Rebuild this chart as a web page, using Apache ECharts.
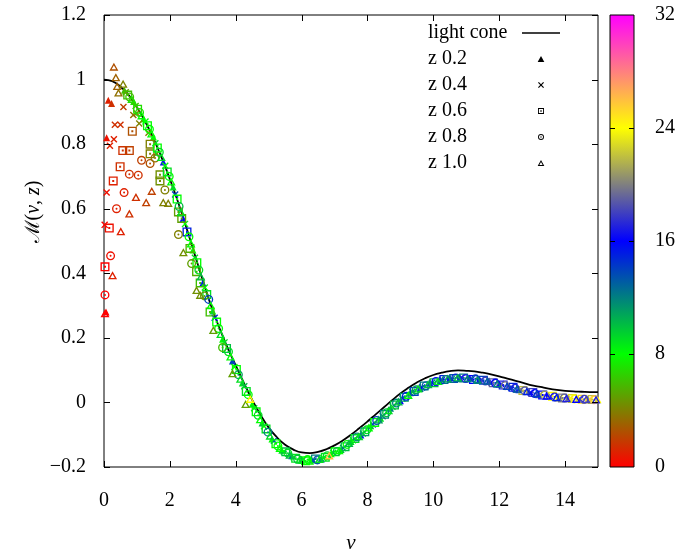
<!DOCTYPE html>
<html><head><meta charset="utf-8">
<script src="https://cdn.jsdelivr.net/npm/echarts@6/dist/echarts.min.js"></script>
<style>html,body{margin:0;padding:0;background:#fff}#c{width:695px;height:556px}</style>
</head><body><div id="c"></div>
<script>
// ---------- data ----------
const X_TICKS = [0, 2, 4, 6, 8, 10, 12, 14];
const Y_TICKS = [-0.2, 0, 0.2, 0.4, 0.6, 0.8, 1.0, 1.2];
const CB_TICKS = [0, 8, 16, 24, 32];
const PALETTE = ['#ff0000', '#00ff00', '#0000ff', '#ffff00', '#ff00ff'];

const LC_NU = [0,0.25,0.5,0.75,1,1.25,1.5,1.75,2,2.25,2.5,2.75,3,3.25,3.5,3.75,4,4.25,4.5,4.75,5,5.25,5.5,5.75,6,6.25,6.5,6.75,7,7.25,7.5,7.75,8,8.25,8.5,8.75,9,9.25,9.5,9.75,10,10.25,10.5,10.75,11,11.25,11.5,11.75,12,12.25,12.5,12.75,13,13.25,13.5,13.75,14,14.25,14.5,14.75,15];
const LC_M = [1.000,0.995,0.978,0.952,0.914,0.870,0.818,0.758,0.692,0.620,0.542,0.460,0.378,0.300,0.232,0.170,0.115,0.060,0.008,-0.038,-0.078,-0.108,-0.131,-0.146,-0.155,-0.157,-0.153,-0.145,-0.133,-0.118,-0.100,-0.080,-0.059,-0.037,-0.015,0.007,0.028,0.046,0.062,0.075,0.085,0.092,0.097,0.099,0.098,0.096,0.092,0.087,0.081,0.074,0.067,0.060,0.053,0.048,0.043,0.039,0.036,0.034,0.033,0.032,0.032];

const Z02_NU = [0.06,0.08,0.13,0.23, 0.62,0.9,1.2,1.5,1.8,2.1,2.4,2.7,3.0,3.3,3.6,3.9,4.2,4.5,4.8,5.1,5.4,5.7,6.0,6.3,6.6,6.9,7.2,7.5,7.8,8.1,8.4,8.7,9.0,9.3,9.6,9.9,10.2,10.5,10.8,11.1,11.4,11.7,12.0,12.3,12.6,12.9,13.2,13.5,13.8,14.1,14.4,14.7,15.0];
const Z02_M = [0.28,0.82,0.936,0.926, 0.967,0.932,0.878,0.822,0.745,0.667,0.570,0.472,0.370,0.283,0.196,0.128,0.060,-0.006,-0.064,-0.113,-0.148,-0.165,-0.180,-0.177,-0.175,-0.159,-0.146,-0.121,-0.101,-0.072,-0.049,-0.018,0.005,0.030,0.043,0.060,0.066,0.076,0.074,0.076,0.068,0.066,0.056,0.051,0.039,0.034,0.024,0.021,0.014,0.014,0.010,0.011,0.008];
const Z02_C = [0,0.5,1,1.5, 6,7,8,8,15,9,16,8,15,9,8,14,9,8,10,8,9,15,8,9,14,8,10,9,15,10,9,12,16,11,13,15,12,16,13,15,17,14,16,18,15,17,19,16,22,16,24,20,24];

const Z04_NU = [0.02,0.08,0.18,0.30,0.33,0.50,0.59,0.89,0.99,1.07,1.35,1.6, 0.66,0.96,1.26,1.56,1.86,2.16,2.46,2.76,3.06,3.36,3.66,3.96,4.26,4.56,4.86,5.16,5.46,5.76,6.06,6.36,6.66,6.96,7.26,7.56,7.86,8.16,8.46,8.76,9.06,9.36,9.66,9.96,10.26,10.56,10.86,11.16,11.46,11.76,12.06,12.36,12.66,12.96,13.26,13.56,13.86,14.16,14.46,14.76];
const Z04_M = [0.55,0.65,0.795,0.815,0.86,0.86,0.915,0.89,0.896,0.864,0.835,0.77, 0.961,0.918,0.870,0.803,0.733,0.644,0.553,0.448,0.356,0.262,0.186,0.110,0.050,-0.018,-0.074,-0.119,-0.152,-0.170,-0.176,-0.180,-0.172,-0.156,-0.141,-0.117,-0.096,-0.068,-0.043,-0.013,0.012,0.033,0.046,0.061,0.070,0.073,0.077,0.072,0.070,0.062,0.057,0.046,0.040,0.030,0.026,0.018,0.016,0.012,0.010,0.009];
const Z04_C = [0,0.5,1,1,1.5,1.5,2,3.5,3.5,4,4,4.5, 5,6,8,9,8,14,8,9,8,15,9,8,10,9,8,13,9,8,10,15,8,9,12,8,10,14,11,9,13,10,16,12,14,11,16,13,15,18,16,14,20,16,23,18,24,25,17,24];

const Z06_NU = [0.03,0.16,0.28,0.49,0.57,0.77,0.86,1.4,1.4,1.7,1.7,2.26,2.36,2.61,2.81,2.92,3.22, 0.72,1.02,1.32,1.62,1.92,2.22,2.52,2.82,3.12,3.42,3.72,4.02,4.32,4.62,4.92,5.22,5.52,5.82,6.12,6.42,6.72,7.02,7.32,7.62,7.92,8.22,8.52,8.82,9.12,9.42,9.72,10.02,10.32,10.62,10.92,11.22,11.52,11.82,12.12,12.42,12.72,13.02,13.32,13.62,13.92,14.22,14.52,14.82];
const Z06_M = [0.42,0.54,0.686,0.73,0.78,0.78,0.84,0.80,0.77,0.705,0.686,0.59,0.57,0.477,0.405,0.37,0.28, 0.952,0.908,0.857,0.788,0.714,0.630,0.528,0.433,0.334,0.249,0.167,0.102,0.034,-0.029,-0.082,-0.128,-0.153,-0.173,-0.181,-0.175,-0.170,-0.153,-0.137,-0.112,-0.091,-0.062,-0.037,-0.008,0.016,0.034,0.051,0.061,0.071,0.074,0.076,0.071,0.069,0.061,0.054,0.047,0.037,0.031,0.023,0.019,0.014,0.012,0.010,0.009];
const Z06_C = [0,0.5,1,1.5,1.5,2,2.5,4,4,4.5,4.5,5,5,5.5,5.5,6,6, 6,7,8,8,9,8,15,8,9,8,10,8,9,8,9,8,10,9,8,12,9,8,10,9,11,8,12,10,11,14,12,10,15,13,12,16,14,19,17,15,22,18,16,24,20,23,25,22];

const Z08_NU = [0.03,0.20,0.38,0.61,0.77,1.04,1.14,1.40,1.55,1.85,2.26,2.66,3.05,3.6, 0.78,1.08,1.38,1.68,1.98,2.28,2.58,2.88,3.18,3.48,3.78,4.08,4.38,4.68,4.98,5.28,5.58,5.88,6.18,6.48,6.78,7.08,7.38,7.68,7.98,8.28,8.58,8.88,9.18,9.48,9.78,10.08,10.38,10.68,10.98,11.28,11.58,11.88,12.18,12.48,12.78,13.08,13.38,13.68,13.98,14.28,14.58,14.88];
const Z08_M = [0.333,0.454,0.60,0.65,0.707,0.704,0.75,0.74,0.757,0.658,0.52,0.43,0.33,0.17, 0.946,0.898,0.846,0.775,0.700,0.607,0.513,0.410,0.319,0.229,0.157,0.086,0.024,-0.040,-0.092,-0.135,-0.157,-0.176,-0.177,-0.178,-0.165,-0.152,-0.130,-0.107,-0.085,-0.056,-0.032,-0.002,0.019,0.039,0.052,0.065,0.071,0.076,0.074,0.073,0.066,0.060,0.052,0.044,0.036,0.028,0.023,0.017,0.014,0.011,0.010,0.008];
const Z08_C = [0,0.5,1,1,1.5,1.5,2,2.5,3.5,4,4,5,5,6, 6,7,8,9,8,10,8,9,14,8,9,11,8,9,12,8,9,10,8,13,9,10,8,12,9,14,10,12,15,11,13,16,12,15,17,14,18,16,20,17,19,16,21,17,19,24,18,26];

const Z10_NU = [0.03,0.26,0.51,0.77,0.97,1.28,1.45,0.30,0.36,0.40,0.44,0.58,1.8,1.95,2.41,2.81,2.92,3.32,3.9,4.3, 0.84,1.14,1.44,1.74,2.04,2.34,2.64,2.94,3.24,3.54,3.84,4.14,4.44,4.74,5.04,5.34,5.64,5.94,6.24,6.54,6.84,7.14,7.44,7.74,8.04,8.34,8.64,8.94,9.24,9.54,9.84,10.14,10.44,10.74,11.04,11.34,11.64,11.94,12.24,12.54,12.84,13.14,13.44,13.74,14.04,14.34,14.64,14.94];
const Z10_M = [0.276,0.394,0.53,0.585,0.636,0.62,0.655,1.04,1.007,0.98,0.96,0.987,0.62,0.618,0.465,0.348,0.333,0.224,0.09,-0.005, 0.940,0.889,0.833,0.760,0.684,0.589,0.492,0.390,0.301,0.212,0.142,0.073,0.011,-0.052,-0.103,-0.141,-0.162,-0.177,-0.181,-0.175,-0.164,-0.148,-0.126,-0.105,-0.078,-0.053,-0.024,0.003,0.023,0.043,0.056,0.066,0.074,0.077,0.075,0.070,0.067,0.059,0.051,0.042,0.035,0.028,0.021,0.016,0.013,0.011,0.010,0.009];
const Z10_C = [0,1,1,1.5,1.5,2,2,2.5,3,3,3.5,4,4,4,4.5,4.5,4.5,5,5,5, 7,8,8,9,8,9,8,10,8,9,8,9,24,8,9,8,10,9,8,9,26,8,10,9,8,11,9,10,8,9,10,9,11,10,12,11,13,12,14,13,15,14,16,15,17,16,18,17];

// ---------- styling ----------
const FONT = '"Liberation Serif", "DejaVu Serif", serif';
const SYM_TRI = 'path://M5,0L10,9L0,9Z';
const SYM_CROSS = 'path://M0,1.4L1.4,0L10,8.6L8.6,10ZM8.6,0L10,1.4L1.4,10L0,8.6Z';
const SYM_SQ = 'path://M0,0L10,0L10,10L0,10ZM1.5,1.5L1.5,8.5L8.5,8.5L8.5,1.5ZM3.9,3.9L6.1,3.9L6.1,6.1L3.9,6.1Z';
const SYM_CIRC = 'path://M5,0A5,5,0,1,1,4.99,0ZM5,1.5A3.5,3.5,0,1,0,5.01,1.5ZM5,3.9A1.1,1.1,0,1,1,4.99,3.9Z';
const SYM_OTRI = 'path://M5,0L10,9L0,9ZM5,3.1L2.55,7.5L7.45,7.5Z';
const SYM_LINE = 'path://M0,0L38,0L38,1.5L0,1.5Z';

function zip3(a, b, c) { return a.map((v, i) => [v, b[i], c[i]]); }
function zip2(a, b) { return a.map((v, i) => [v, b[i]]); }

const NAMES = ['light cone', 'z 0.2', 'z 0.4', 'z 0.6', 'z 0.8', 'z 1.0'];
const ICONS = [SYM_LINE, SYM_TRI, SYM_CROSS, SYM_SQ, SYM_CIRC, SYM_OTRI];

function scatter(name, nu, m, c, symbol, size) {
  return {
    type: 'scatter', name, data: zip3(nu, m, c), symbol, symbolSize: size,
    xAxisIndex: 0, yAxisIndex: 0,
    itemStyle: { borderWidth: 0, opacity: 1 }, emphasis: { disabled: true }, silent: true
  };
}

function yFmt(v) { const r = Math.round(v * 10) / 10; return (r < 0 ? '\u2212' : '') + String(Math.abs(r)); }

const G = { left: 104, top: 15, width: 494, height: 452 };
const CB = { left: 610, top: 15, width: 24, height: 452 };
const X_MIN = 0, X_MAX = 15, Y_MIN = -0.2, Y_MAX = 1.2, C_MIN = 0, C_MAX = 32;
const labelStyle = { color: '#000', fontFamily: FONT, fontSize: 20 };
const edgeLine = { show: false, onZero: false };

const colorbarRect = {
  type: 'rect', silent: true, z: -1,
  shape: { x: CB.left, y: CB.top, width: CB.width, height: CB.height },
  style: { fill: { type: 'linear', x: 0, y: 1, x2: 0, y2: 0,
    colorStops: PALETTE.map((c, i) => ({ offset: i / (PALETTE.length - 1), color: c })) } }
};

// Inward, mirrored tick marks on the frame (axis decorations, drawn as thin rects)
function tickRect(x, y, w, h) {
  return { type: 'rect', silent: true, z: 100, zlevel: 0,
    shape: { x, y, width: w, height: h }, style: { fill: '#000', stroke: null } };
}
const TL = 6, CTL = 5;
const tickEls = [];
const gBottom = G.top + G.height, gRight = G.left + G.width;
X_TICKS.forEach(v => {
  const x = Math.round(G.left + (v - X_MIN) / (X_MAX - X_MIN) * G.width);
  tickEls.push(tickRect(x, gBottom - TL, 1, TL));
  tickEls.push(tickRect(x, G.top, 1, TL));
});
Y_TICKS.forEach(v => {
  const y = Math.round(G.top + (Y_MAX - v) / (Y_MAX - Y_MIN) * G.height);
  tickEls.push(tickRect(G.left, y, TL, 1));
  tickEls.push(tickRect(gRight - TL, y, TL, 1));
});
CB_TICKS.slice(1, -1).forEach(v => {
  const y = Math.round(CB.top + (C_MAX - v) / (C_MAX - C_MIN) * CB.height);
  tickEls.push(tickRect(CB.left, y, CTL, 1));
  tickEls.push(tickRect(CB.left + CB.width - CTL, y, CTL, 1));
});

const option = {
  animation: false,
  backgroundColor: '#fff',
  textStyle: { fontFamily: FONT },
  grid: [
    Object.assign({ show: true, borderColor: '#000', borderWidth: 1, backgroundColor: 'transparent', outerBoundsMode: 'none' }, G),
    Object.assign({ show: true, borderColor: '#000', borderWidth: 1, backgroundColor: 'transparent', outerBoundsMode: 'none', z: 5 }, CB)
  ],
  xAxis: [
    { type: 'value', gridIndex: 0, min: X_MIN, max: X_MAX, interval: 2, position: 'bottom',
      axisLine: edgeLine, axisTick: { show: false }, splitLine: { show: false },
      axisLabel: Object.assign({ margin: 24, showMaxLabel: false, formatter: v => String(Math.round(v)) }, labelStyle),
      name: 'ν', nameLocation: 'middle', nameGap: 66, nameMoveOverlap: false,
      nameTextStyle: { fontFamily: FONT, fontSize: 21, fontStyle: 'italic', color: '#000' } },
    { type: 'value', gridIndex: 1, min: 0, max: 1, show: false }
  ],
  yAxis: [
    { type: 'value', gridIndex: 0, min: Y_MIN, max: Y_MAX, interval: 0.2, position: 'left',
      axisLine: edgeLine, axisTick: { show: false }, splitLine: { show: false },
      axisLabel: Object.assign({ margin: 18, formatter: yFmt }, labelStyle),
      name: '{cal|ℳ}({it|ν}, {it|z})', nameLocation: 'middle', nameGap: 60, nameMoveOverlap: false,
      nameTextStyle: { fontFamily: FONT, fontSize: 20, color: '#000', padding: [0, 0, 0, 58],
        rich: { it: { fontFamily: FONT, fontSize: 20, fontStyle: 'italic', color: '#000' },
                cal: { fontFamily: '"DejaVu Serif", serif', fontSize: 20, color: '#000' } } } },
    { type: 'value', gridIndex: 1, min: C_MIN, max: C_MAX, interval: 8, position: 'right',
      axisLine: edgeLine, axisTick: { show: false }, splitLine: { show: false },
      axisLabel: Object.assign({ margin: 21, formatter: v => String(v) }, labelStyle) }
  ],
  visualMap: {
    type: 'continuous', show: false, min: C_MIN, max: C_MAX, dimension: 2,
    seriesIndex: [1, 2, 3, 4, 5], inRange: { color: PALETTE }
  },
  graphic: { elements: [colorbarRect].concat(tickEls) },
  legend: [
    { orient: 'vertical', left: 422, top: 23, padding: 0, itemGap: 6, itemWidth: 1, itemHeight: 6,
      selectedMode: false, icon: 'rect', itemStyle: { opacity: 0 }, data: NAMES,
      textStyle: { fontFamily: FONT, fontSize: 20, lineHeight: 20, color: '#000' } },
    { orient: 'vertical', left: 522, top: 23, padding: 0, itemGap: 6, itemWidth: 38, itemHeight: 6,
      selectedMode: false, formatter: () => ' ',
      data: NAMES.map((n, i) => ({ name: n, icon: ICONS[i], itemStyle: { color: '#000', borderWidth: 0, opacity: 1 } })),
      textStyle: { fontFamily: FONT, fontSize: 20, lineHeight: 20, color: '#000' } }
  ],
  series: [
    { type: 'line', name: 'light cone', data: zip2(LC_NU, LC_M), xAxisIndex: 0, yAxisIndex: 0,
      showSymbol: false, symbol: 'none', smooth: true, silent: true,
      lineStyle: { color: '#000', width: 1.8 }, itemStyle: { color: '#000' }, z: 1 },
    scatter('z 0.2', Z02_NU, Z02_M, Z02_C, 'triangle', 7),
    scatter('z 0.4', Z04_NU, Z04_M, Z04_C, SYM_CROSS, 7),
    scatter('z 0.6', Z06_NU, Z06_M, Z06_C, SYM_SQ, 9),
    scatter('z 0.8', Z08_NU, Z08_M, Z08_C, SYM_CIRC, 9),
    scatter('z 1.0', Z10_NU, Z10_M, Z10_C, SYM_OTRI, [9, 8])
  ]
};

const chart = echarts.init(document.getElementById('c'), null, { renderer: 'canvas' });
chart.setOption(option);
</script>
</body></html>
